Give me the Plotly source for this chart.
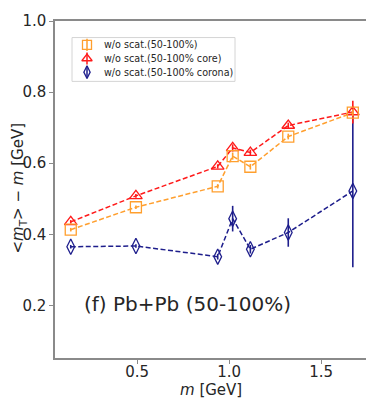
## Imports
import plotly.graph_objects as go

## Data
particles = ['pi', 'K', 'p', 'phi', 'Lambda', 'Xi', 'Omega']
mass = [0.1396, 0.4937, 0.9383, 1.0195, 1.1157, 1.3217, 1.6725]

full_y = [0.413, 0.476, 0.535, 0.620, 0.590, 0.675, 0.742]
full_err = [0.005, 0.005, 0.006, 0.010, 0.008, 0.008, 0.010]

core_y = [0.435, 0.508, 0.591, 0.643, 0.630, 0.706, 0.744]
core_err = [0.005, 0.005, 0.006, 0.010, 0.008, 0.008, 0.032]

corona_y = [0.365, 0.367, 0.337, 0.444, 0.358, 0.405, 0.522]
corona_err = [0.005, 0.005, 0.008, 0.036, 0.012, 0.040, 0.215]

names = ['w/o scat.(50-100%)', 'w/o scat.(50-100% core)', 'w/o scat.(50-100% corona)']

## Styling
orange = '#ff9f2e'
red = '#ff1a1a'
navy = '#1e1e8c'
frame_col = '#8a8a8a'
txt_col = '#262626'
font_family = 'DejaVu Sans'
dash = '5px,2.5px'
symbols = ['square-open', 'triangle-up-open', 'diamond-tall-open']
colors = [orange, red, navy]

# page has an 8px body margin, so the figure is laid out in shifted pixels
W, H = 366, 397
L, R, T, B = 47, 6, 4, 47
pw, ph = W - L - R, H - T - B


def px_x(x):
    return (x - 8 - L) / pw


def px_y(y):
    return (H - B - (y - 8)) / ph


fig = go.Figure()

# drawn back to front: corona, core, full
series = [
    (corona_y, corona_err, navy, 'diamond-tall-open'),
    (core_y, core_err, red, 'triangle-up-open'),
    (full_y, full_err, orange, 'square-open'),
]
for yy, ee, col, sym in series:
    fig.add_trace(go.Scatter(
        x=mass, y=yy,
        mode='lines+markers',
        line=dict(color=col, width=1.5, dash=dash),
        marker=dict(symbol=sym, size=11, color=col, line=dict(width=1.3, color=col)),
        error_y=dict(type='data', array=ee, color=col, thickness=1.6, width=0),
        showlegend=False
    ))

# hand-made legend (matplotlib-like compact spacing)
leg_rows = [36.5, 50.5, 64.5]
fig.add_shape(type='rect', xref='paper', yref='paper',
              x0=px_x(72), x1=px_x(235), y0=px_y(74), y1=px_y(29),
              line=dict(color='#d4d4d4', width=1), fillcolor='white', layer='below')
for name, col, sym, row in zip(names, colors, symbols, leg_rows):
    fig.add_trace(go.Scatter(
        x=[px_x(87)], y=[px_y(row)], xaxis='x2', yaxis='y2',
        mode='markers', showlegend=False, hoverinfo='skip',
        marker=dict(symbol=sym, size=9, color=col, line=dict(width=1.3, color=col)),
        error_y=dict(type='constant', value=0.018, color=col, thickness=1.5, width=0)
    ))
    fig.add_annotation(text=name, x=px_x(102), y=px_y(row), xref='paper', yref='paper',
                       xanchor='left', yanchor='middle', showarrow=False,
                       font=dict(size=9.6, color=txt_col))

axis_style = dict(
    showgrid=False, zeroline=False, showline=True, mirror=True,
    linecolor=frame_col, linewidth=1.5, ticks='outside', ticklen=4,
    tickcolor=frame_col, tickfont=dict(size=15, color=txt_col),
    ticklabeloverflow='allow'
)

fig.update_layout(
    width=W, height=H,
    margin=dict(l=L, r=R, t=T, b=B),
    paper_bgcolor='white',
    plot_bgcolor='white',
    font=dict(family=font_family, size=15, color=txt_col),
    showlegend=False,
    xaxis=dict(range=[0.054, 1.755], tickvals=[0.5, 1.0, 1.5],
               ticktext=['0.5', '1.0', '1.5'], ticklabelstandoff=-5, **axis_style),
    yaxis=dict(range=[0.052, 1.0], tickvals=[0.2, 0.4, 0.6, 0.8, 1.0],
               ticktext=['0.2', '0.4', '0.6', '0.8', '1.0'], **axis_style),
    xaxis2=dict(range=[0, 1], overlaying='x', anchor='y2', visible=False, fixedrange=True),
    yaxis2=dict(range=[0, 1], overlaying='y', anchor='x2', visible=False, fixedrange=True),
)
fig.add_annotation(text='(f) Pb+Pb (50-100%)', x=px_x(82), y=px_y(303),
                   xref='paper', yref='paper', xanchor='left', yanchor='middle',
                   showarrow=False, font=dict(size=20, color=txt_col))
fig.add_annotation(text='&lt;<i>m</i><sub>T</sub>&gt; \u2212 <i>m</i> [GeV]',
                   x=px_x(19), y=px_y(184), xref='paper', yref='paper',
                   xanchor='center', yanchor='middle', textangle=-90,
                   showarrow=False, font=dict(size=15, color=txt_col))
fig.add_annotation(text='<i>m</i> [GeV]', x=px_x(211), y=px_y(391),
                   xref='paper', yref='paper', xanchor='center', yanchor='middle',
                   showarrow=False, font=dict(size=15, color=txt_col))

fig.write_html("out.html")
